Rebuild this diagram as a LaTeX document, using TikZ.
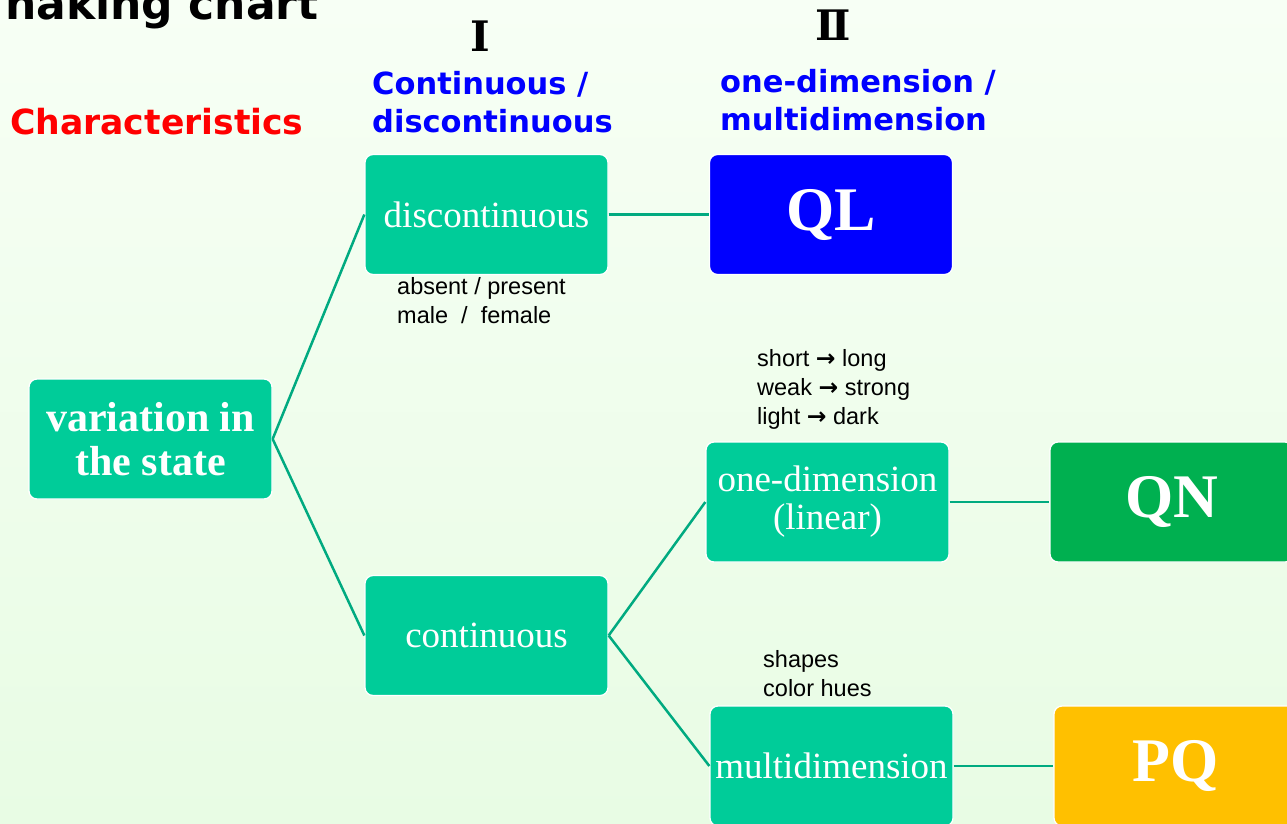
\documentclass[tikz,border=0pt]{standalone}
\usepackage{fontspec}
\setmainfont{Liberation Serif}
\newfontfamily\tah{DejaVu Sans}
\newfontfamily\ari{Liberation Sans}
\newfontfamily\dv{DejaVu Sans}
\newfontfamily\rom{DejaVu Serif}
\definecolor{bgtop}{RGB}{247,255,245}
\definecolor{bgbot}{RGB}{232,252,228}
\definecolor{boxgreen}{RGB}{0,204,153}
\definecolor{qlblue}{RGB}{0,0,255}
\definecolor{qngreen}{RGB}{0,176,80}
\definecolor{pqgold}{RGB}{255,192,0}
\definecolor{linkcol}{RGB}{0,170,128}
\newcommand{\arr}{{\dv\bfseries →}}
\tikzset{
  box/.style={rounded corners=8pt, draw=white, line width=1.3pt, fill=boxgreen,
    minimum width=243pt, minimum height=120pt, inner sep=0pt, text=white, align=center},
  boxtxt/.style={font=\fontsize{37}{38}\selectfont},
  bigtxt/.style={font=\fontsize{62}{62}\selectfont\bfseries},
  link/.style={draw=linkcol, line width=2.5pt},
  note/.style={font=\ari\fontsize{23.5}{29}\selectfont, align=left, inner sep=0pt, anchor=base west},
  head/.style={font=\tah\bfseries\fontsize{30.5}{38}\selectfont, text=qlblue, align=left, inner sep=0pt, anchor=base west},
}
\begin{document}
\begin{tikzpicture}[x=1pt,y=-1pt]
\useasboundingbox (0,0) rectangle (1287,823);
\shade[top color=bgtop, bottom color=bgbot] (0,0) rectangle (1287,823);

% title (clipped at the top)
\node[inner sep=0pt, anchor=base west, font=\tah\bfseries\fontsize{44}{44}\selectfont] (title) at (5,19) {naking chart};
\node[inner sep=0pt, anchor=base west, font=\tah\bfseries\fontsize{34.6}{35}\selectfont, text=red] (charac) at (10,134) {Characteristics};

% column headings
\node[font=\rom\bfseries\fontsize{42}{42}\selectfont, inner sep=0pt] (r1) at (480,36) {Ⅰ};
\node[font=\rom\bfseries\fontsize{42}{42}\selectfont, inner sep=0pt] (r2) at (833,25) {Ⅱ};
\node[head] (h1) at (372,132) {Continuous /\\discontinuous};
\node[head] (h2) at (720,130) {one-dimension /\\multidimension};

% boxes
\node[box, font=\fontsize{42}{44}\selectfont\bfseries] (var) at (150.5,439) {variation in\\the state};
\node[box, boxtxt] (disc) at (486.5,214.5) {discontinuous};
\node[box, boxtxt] (cont) at (486.5,635.5) {continuous};
\node[box, boxtxt] (oned) at (827.5,502) {one-dimension\\(linear)};
\node[box, boxtxt] (multi) at (831.5,766) {multidimension};
\node[box, bigtxt, fill=qlblue] (ql) at (831,214.5) {QL};
\node[box, bigtxt, fill=qngreen] (qn) at (1171.5,502) {QN};
\node[box, bigtxt, fill=pqgold] (pq) at (1175.5,766) {PQ};

% notes
\node[note] (n1) at (397,323) {absent / present\\male \ / \ female};
\node[note] (n2) at (757,424) {short \arr{} long\\weak \arr{} strong\\light \arr{} dark};
\node[note] (n3) at (763,696) {shapes\\color hues};

% connectors
\draw[link] (var.east) -- (disc.west);
\draw[link] (var.east) -- (cont.west);
\draw[link] (disc.east) -- (ql.west);
\draw[link] (cont.east) -- (oned.west);
\draw[link] (cont.east) -- (multi.west);
\draw[link] (oned.east) -- (qn.west);
\draw[link] (multi.east) -- (pq.west);
\end{tikzpicture}
\end{document}
